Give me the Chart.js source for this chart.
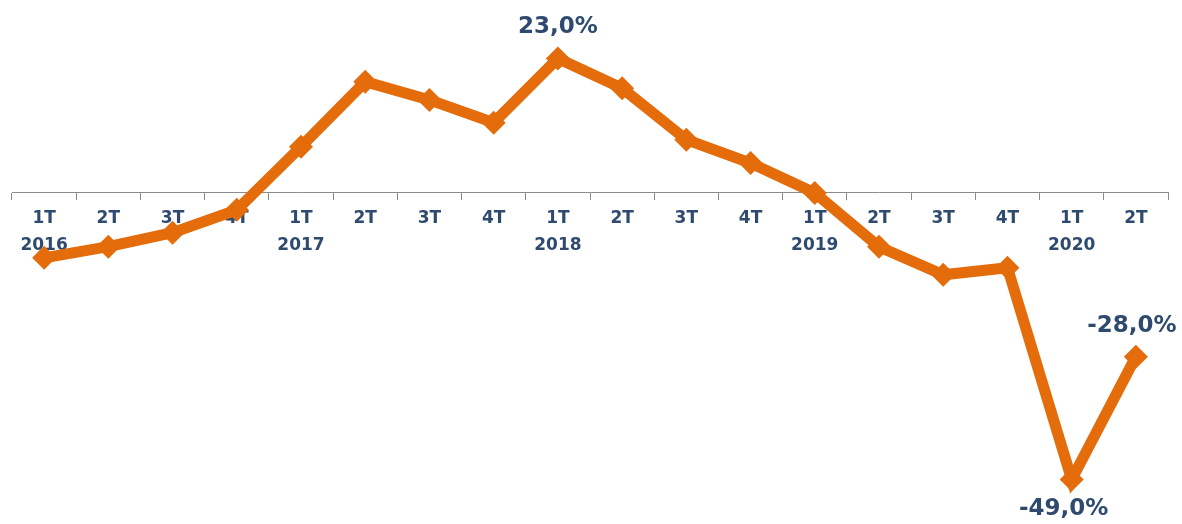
<!DOCTYPE html>
<html>
<head>
<meta charset="utf-8">
<script src="https://cdn.jsdelivr.net/npm/chart.js@4"></script>
<style>
  html, body { margin: 0; padding: 0; background: #fff; }
  #wrap { width: 1182px; height: 524px; }
</style>
</head>
<body>
<div id="wrap"><canvas id="chart"></canvas></div>
<script>
const quarters = ['1T', '2T', '3T', '4T', '1T', '2T', '3T', '4T', '1T', '2T', '3T', '4T', '1T', '2T', '3T', '4T', '1T', '2T'];
const years = ['2016', '', '', '', '2017', '', '', '', '2018', '', '', '', '2019', '', '', '', '2020', ''];
const growth = [-11.1, -9.2, -6.8, -2.9, 7.9, 19.0, 15.9, 12.0, 23.0, 17.9, 9.1, 5.1, 0.0, -9.2, -14.0, -12.8, -49.0, -28.0];
const shownLabels = [null, null, null, null, null, null, null, null, '23,0%', null, null, null, null, null, null, null, '-49,0%', '-28,0%'];

const labels = quarters.map((q, i) => [q, years[i]]);

const textBlue = '#2E4B6F';
const orange = '#E46C0A';

// draws the few value labels shown on the picture
const valueLabelPlugin = {
  id: 'valueLabels',
  afterDatasetsDraw(chart) {
    const ctx = chart.ctx;
    const meta = chart.getDatasetMeta(0);
    ctx.save();
    ctx.font = 'bold 23px "DejaVu Sans"';
    ctx.fillStyle = textBlue;
    ctx.textAlign = 'center';
    ctx.textBaseline = 'middle';
    meta.data.forEach((pt, i) => {
      const txt = shownLabels[i];
      if (!txt) return;
      const v = growth[i];
      const prev = i > 0 ? growth[i - 1] : Infinity;
      const next = i < growth.length - 1 ? growth[i + 1] : Infinity;
      const below = v < prev && v < next;
      const dx = i === growth.length - 1 ? -4 : (below ? -8 : 0);
      ctx.fillText(txt, pt.x + dx, below ? pt.y + 30 : pt.y - 31);
    });
    ctx.restore();
  }
};

new Chart(document.getElementById('chart'), {
  type: 'line',
  data: {
    labels: labels,
    datasets: [{
      data: growth,
      borderColor: orange,
      backgroundColor: orange,
      borderWidth: 11,
      pointStyle: 'rectRot',
      pointRadius: 12,
      pointHoverRadius: 12,
      pointBorderWidth: 0,
      tension: 0,
      clip: false
    }]
  },
  options: {
    responsive: true,
    maintainAspectRatio: false,
    animation: false,
    layout: { padding: { left: 12, right: 14, top: 35, bottom: 27 } },
    plugins: {
      legend: { display: false },
      tooltip: { enabled: false }
    },
    scales: {
      x: {
        position: { y: 0 },
        offset: true,
        grid: {
          offset: true,
          drawOnChartArea: false,
          drawTicks: true,
          tickLength: 7,
          color: '#8C8C8C'
        },
        border: { display: true, color: '#8C8C8C', width: 1 },
        ticks: {
          autoSkip: false,
          maxRotation: 0,
          padding: 5,
          color: textBlue,
          font: { family: '"DejaVu Sans"', size: 17, weight: 'bold', lineHeight: 1.6 }
        }
      },
      y: {
        display: false,
        min: -52,
        max: 27
      }
    }
  },
  plugins: [valueLabelPlugin]
});
</script>
</body>
</html>
